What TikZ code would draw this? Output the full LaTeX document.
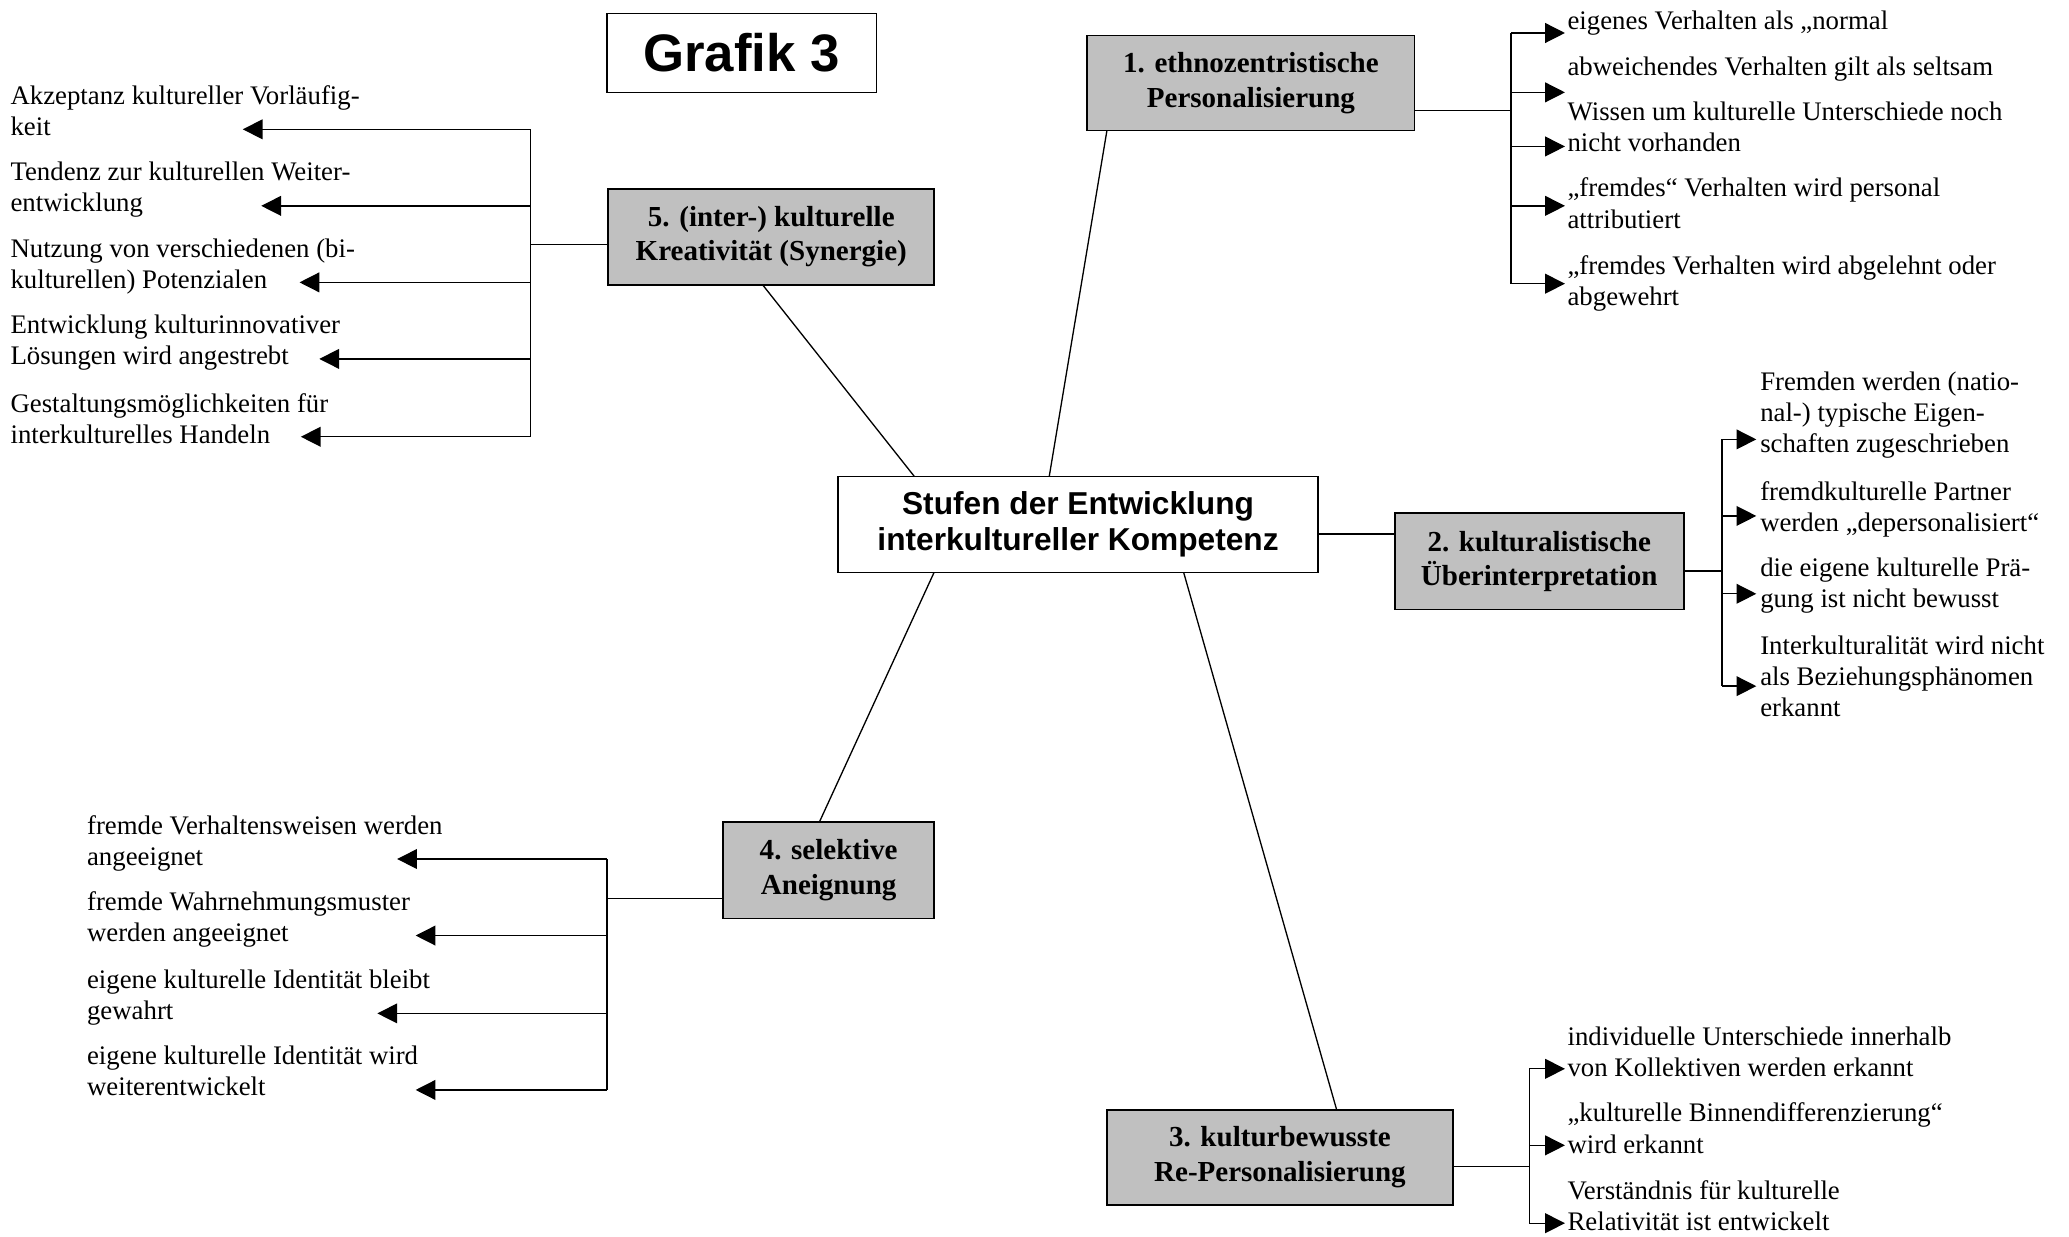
\documentclass[tikz,border=0pt]{standalone}
\usepackage{fontspec}
\setmainfont{Liberation Serif}
\newfontfamily\arialf{Liberation Sans}
\usetikzlibrary{arrows.meta,calc}
\definecolor{boxgray}{RGB}{192,192,192}
\begin{document}
\begin{tikzpicture}[x=1pt,y=-1pt,
  stage/.style={draw, line width=1.3pt, fill=boxgray, align=center, inner sep=0pt, outer sep=0pt,
    font=\bfseries\fontsize{22}{26}\selectfont},
  hub/.style={draw, line width=1.2pt, fill=white, align=center, inner sep=0pt, outer sep=0pt,
    font=\arialf\bfseries\fontsize{24}{27}\selectfont},
  titlebox/.style={draw, line width=1pt, fill=white, inner sep=0pt, outer sep=0pt,
    font=\arialf\bfseries\fontsize{40}{44}\selectfont},
  item/.style={anchor=north west, align=left, inner sep=0pt, outer sep=0pt, yshift=-3pt,
    font=\fontsize{20.3}{23.5}\selectfont, execute at begin node=\strut},
  link/.style={line width=1pt},
  arr/.style={line width=1pt, -{Triangle[length=15pt,width=15pt]}},
]
\fill[white] (0,0) rectangle (1568,937);
\useasboundingbox (0,0) rectangle (1568,937);

% title
\node[titlebox, minimum width=204pt, minimum height=60pt] (title) at (562,40) {Grafik 3};

% hub and stages
\node[hub, minimum width=364pt, minimum height=73pt] (hub) at (817,397.5)
  {Stufen der Entwicklung\\interkultureller Kompetenz};
\node[stage, minimum width=248pt, minimum height=72pt] (b1) at (948,63)
  {1. ethnozentristische\\Personalisierung};
\node[stage, minimum width=219pt, minimum height=73pt] (b2) at (1166.5,425.5)
  {2. kulturalistische\\Überinterpretation};
\node[stage, minimum width=262pt, minimum height=72pt] (b3) at (970,877)
  {3. kulturbewusste\\Re-Personalisierung};
\node[stage, minimum width=160pt, minimum height=73pt] (b4) at (628,659.5)
  {4. selektive\\Aneignung};
\node[stage, minimum width=247pt, minimum height=73pt] (b5) at (584.5,179.5)
  {5. (inter-) kulturelle\\Kreativität (Synergie)};

% hub connectors
\draw[link] ($(hub.north west)!0.44!(hub.north east)$) -- ($(b1.south west)!0.06!(b1.south east)$);
\coordinate (h2) at ($(hub.north east)!0.6!(hub.south east)$);
\draw[link] (h2) -- (h2 -| b2.west);
\draw[link] ($(hub.south west)!0.72!(hub.south east)$) -- ($(b3.north west)!0.664!(b3.north east)$);
\draw[link] ($(hub.south west)!0.2!(hub.south east)$) -- ($(b4.north west)!0.456!(b4.north east)$);
\draw[link] ($(hub.north west)!0.159!(hub.north east)$) -- ($(b5.south west)!0.474!(b5.south east)$);

% ---------- group 1
\coordinate (j1) at ($(b1.north east)!0.79!(b1.south east)$);
\coordinate (k1) at (1145,0);
\draw[link] (j1) -- (j1 -| k1);
\draw[link] (k1 |- 0,25) -- (k1 |- 0,215);
\foreach \y [count=\i] in {25,70,111,156,215}{
  \coordinate (a1-\i) at (1186,\y);
  \draw[arr] (k1 |- a1-\i) -- (a1-\i);
}
\node[item] (t11) at (1188,3) {eigenes Verhalten als „normal};
\node[item] (t12) at (1188,38) {abweichendes Verhalten gilt als seltsam};
\node[item] (t13) at (1188,74) {Wissen um kulturelle Unterschiede noch\\nicht vorhanden};
\node[item] (t14) at (1188,132) {„fremdes“ Verhalten wird personal\\attributiert};
\node[item] (t15) at (1188,191) {„fremdes Verhalten wird abgelehnt oder\\abgewehrt};

% ---------- group 2
\coordinate (j2) at ($(b2.north east)!0.6!(b2.south east)$);
\coordinate (k2) at (1305,0);
\draw[link] (j2) -- (j2 -| k2);
\draw[link] (k2 |- 0,333) -- (k2 |- 0,520);
\foreach \y [count=\i] in {333,391,450,520}{
  \coordinate (a2-\i) at (1331,\y);
  \draw[arr] (k2 |- a2-\i) -- (a2-\i);
}
\node[item] (t21) at (1334,279) {Fremden werden (natio-\\nal-) typische Eigen-\\schaften zugeschrieben};
\node[item] (t22) at (1334,362) {fremdkulturelle Partner\\werden „depersonalisiert“};
\node[item] (t23) at (1334,420) {die eigene kulturelle Prä-\\gung ist nicht bewusst};
\node[item] (t24) at (1334,479) {Interkulturalität wird nicht\\als Beziehungsphänomen\\erkannt};

% ---------- group 3
\coordinate (j3) at ($(b3.north east)!0.6!(b3.south east)$);
\coordinate (k3) at (1159,0);
\draw[link] (j3) -- (j3 -| k3);
\draw[link] (k3 |- 0,810) -- (k3 |- 0,927);
\foreach \y [count=\i] in {810,868,927}{
  \coordinate (a3-\i) at (1186,\y);
  \draw[arr] (k3 |- a3-\i) -- (a3-\i);
}
\node[item] (t31) at (1188,775) {individuelle Unterschiede innerhalb\\von Kollektiven werden erkannt};
\node[item] (t32) at (1188,833) {„kulturelle Binnendifferenzierung“\\wird erkannt};
\node[item] (t33) at (1188,892) {Verständnis für kulturelle\\Relativität ist entwickelt};

% ---------- group 4
\coordinate (j4) at ($(b4.north west)!0.79!(b4.south west)$);
\coordinate (k4) at (460,0);
\draw[link] (j4) -- (j4 -| k4);
\draw[link] (k4 |- 0,651) -- (k4 |- 0,826);
\foreach \x/\y [count=\i] in {301/651,315/709,286/768,315/826}{
  \coordinate (a4-\i) at (\x,\y);
  \draw[arr] (k4 |- a4-\i) -- (a4-\i);
}
\node[item] (t41) at (66,615) {fremde Verhaltensweisen werden\\angeeignet};
\node[item] (t42) at (66,673) {fremde Wahrnehmungsmuster\\werden angeeignet};
\node[item] (t43) at (66,732) {eigene kulturelle Identität bleibt\\gewahrt};
\node[item] (t44) at (66,790) {eigene kulturelle Identität wird\\weiterentwickelt};

% ---------- group 5
\coordinate (j5) at ($(b5.north west)!0.58!(b5.south west)$);
\coordinate (k5) at (402,0);
\draw[link] (j5) -- (j5 -| k5);
\draw[link] (k5 |- 0,98) -- (k5 |- 0,331);
\foreach \x/\y [count=\i] in {184/98,198/156,227/214,242/272,228/331}{
  \coordinate (a5-\i) at (\x,\y);
  \draw[arr] (k5 |- a5-\i) -- (a5-\i);
}
\node[item] (t51) at (8,62) {Akzeptanz kultureller Vorläufig-\\keit};
\node[item] (t52) at (8,120) {Tendenz zur kulturellen Weiter-\\entwicklung};
\node[item] (t53) at (8,178) {Nutzung von verschiedenen (bi-\\kulturellen) Potenzialen};
\node[item] (t54) at (8,236) {Entwicklung kulturinnovativer\\Lösungen wird angestrebt};
\node[item] (t55) at (8,295) {Gestaltungsmöglichkeiten für\\interkulturelles Handeln};
\end{tikzpicture}
\end{document}
